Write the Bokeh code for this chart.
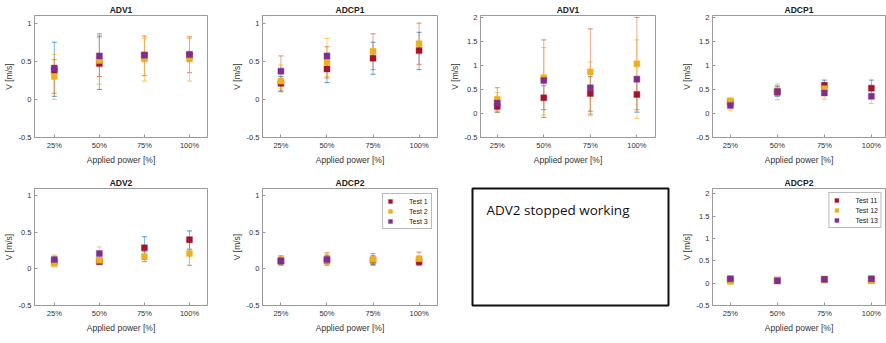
import math
from bokeh.plotting import figure
from bokeh.layouts import row, column
from bokeh.models import (Range1d, FixedTicker, Whisker, TeeHead, ColumnDataSource,
                          Legend, LegendItem, Label, NumeralTickFormatter)
from bokeh.embed import file_html
from bokeh.resources import INLINE

NAN = float("nan")

# ---------------- data ----------------
power_labels = ["25%", "50%", "75%", "100%"]
power_pos = [1, 2, 3, 4]
tests_a = ["Test 1", "Test 2", "Test 3"]
tests_b = ["Test 11", "Test 12", "Test 13"]

# ADV1 (left, tests 1-3)
adv1_a_mean = [[0.38, 0.47, 0.58, 0.58], [0.30, 0.51, 0.53, 0.53], [0.41, 0.57, 0.58, 0.59]]
adv1_a_lo = [[0.04, 0.13, 0.55, 0.55], [0.08, 0.30, 0.31, 0.35], [0.00, 0.20, 0.24, 0.24]]
adv1_a_hi = [[0.75, 0.83, 0.61, 0.62], [0.52, 0.86, 0.83, 0.82], [0.59, 0.81, 0.80, 0.80]]

# ADCP1 (left)
adcp1_a_mean = [[0.21, 0.40, 0.54, 0.64], [0.24, 0.49, 0.63, 0.73], [0.37, 0.57, NAN, NAN]]
adcp1_a_lo = [[0.11, 0.22, 0.33, 0.39], [0.10, 0.28, 0.39, 0.46], [0.14, 0.30, NAN, NAN]]
adcp1_a_hi = [[0.30, 0.58, 0.75, 0.88], [0.57, 0.69, 0.86, 1.00], [0.45, 0.80, NAN, NAN]]

# ADV1 (right, tests 11-13)
adv1_b_mean = [[0.15, 0.33, 0.42, 0.40], [0.30, 0.75, 0.87, 1.04], [0.22, 0.69, 0.54, 0.72]]
adv1_b_lo = [[0.02, 0.08, 0.05, 0.03], [0.05, -0.08, -0.03, 0.08], [0.03, -0.03, 0.00, -0.10]]
adv1_b_hi = [[0.28, 0.58, 0.77, 0.77], [0.54, 1.54, 1.77, 2.01], [0.44, 1.38, 1.08, 1.54]]

# ADCP1 (right)
adcp1_b_mean = [[0.24, 0.45, 0.59, 0.53], [0.27, 0.47, 0.52, NAN], [0.17, 0.46, 0.43, 0.36]]
adcp1_b_lo = [[0.16, 0.36, 0.45, 0.36], [0.22, 0.38, 0.40, NAN], [0.07, 0.29, 0.30, 0.21]]
adcp1_b_hi = [[0.30, 0.56, 0.70, 0.70], [0.31, 0.58, 0.64, NAN], [0.27, 0.62, 0.56, 0.50]]

# ADV2 (left)
adv2_a_mean = [[0.10, 0.10, 0.29, 0.40], [0.07, 0.12, 0.17, 0.21], [0.13, 0.21, NAN, NAN]]
adv2_a_lo = [[0.07, 0.08, 0.13, 0.27], [0.05, 0.07, 0.10, 0.05], [0.07, 0.12, NAN, NAN]]
adv2_a_hi = [[0.14, 0.13, 0.44, 0.52], [0.10, 0.21, 0.24, 0.37], [0.19, 0.30, NAN, NAN]]

# ADCP2 (left)
adcp2_a_mean = [[0.11, 0.12, 0.12, 0.10], [0.11, 0.12, 0.13, 0.14], [0.11, 0.13, NAN, NAN]]
adcp2_a_lo = [[0.06, 0.07, 0.06, 0.05], [0.05, 0.05, 0.05, 0.06], [0.05, 0.06, NAN, NAN]]
adcp2_a_hi = [[0.16, 0.18, 0.18, 0.17], [0.18, 0.22, 0.21, 0.23], [0.17, 0.20, NAN, NAN]]

# ADCP2 (right)
adcp2_b_mean = [[0.08, 0.07, 0.08, 0.07], [0.04, 0.07, 0.08, 0.05], [0.10, 0.05, 0.09, 0.10]]
adcp2_b_lo = [[0.04, 0.04, 0.05, 0.04], [0.01, 0.04, 0.05, 0.02], [0.06, 0.02, 0.06, 0.07]]
adcp2_b_hi = [[0.12, 0.10, 0.11, 0.10], [0.07, 0.10, 0.11, 0.08], [0.14, 0.08, 0.12, 0.13]]

note_text = "ADV2 stopped working"

# ---------------- style ----------------
marker_colors = ["#A2142F", "#EDB120", "#7E2F8E"]
bar_colors = ["#0072BD", "#D95319", "#EDB120"]
FONT = "Liberation Sans"
AX = "#9a9a9a"
TXT = "#333333"


def make_panel(title, means, los, his, width, height, borders, xr, yr, yticks,
               legend_labels=None, legend_margin=5):
    left, right, top, bottom = borders
    p = figure(width=width, height=height, output_backend="svg", toolbar_location=None,
               x_range=Range1d(*xr), y_range=Range1d(*yr), title=title,
               min_border_left=left, min_border_right=right,
               min_border_top=top, min_border_bottom=bottom)
    p.title.text_font = FONT
    p.title.text_font_size = "8.5px"
    p.title.text_font_style = "bold"
    p.title.text_color = "#222222"
    p.title.align = "center"
    p.title.standoff = 2
    p.xgrid.visible = False
    p.ygrid.visible = False
    p.outline_line_color = AX
    p.outline_line_width = 1
    p.background_fill_color = "white"
    p.border_fill_color = "white"
    for ax in (p.xaxis[0], p.yaxis[0]):
        ax.axis_line_color = AX
        ax.major_tick_line_color = AX
        ax.major_tick_in = 3
        ax.major_tick_out = 0
        ax.minor_tick_line_color = None
        ax.major_label_text_font = FONT
        ax.major_label_text_font_size = "7.5px"
        ax.major_label_text_color = TXT
        ax.axis_label_text_font = FONT
        ax.axis_label_text_font_size = "8.5px"
        ax.axis_label_text_font_style = "normal"
        ax.axis_label_text_color = TXT
        ax.major_label_standoff = 3
        ax.axis_label_standoff = 2
    p.xaxis.ticker = FixedTicker(ticks=power_pos)
    p.xaxis.major_label_overrides = {k: v for k, v in zip(power_pos, power_labels)}
    p.xaxis.axis_label = "Applied power [%]"
    p.yaxis.ticker = FixedTicker(ticks=yticks)
    p.yaxis.formatter = NumeralTickFormatter(format="0.[0]")
    p.yaxis.axis_label = "V [m/s]"

    renderers = []
    sources = []
    for i in range(3):
        xs, ms, ls, hs = [], [], [], []
        for x, m, lo, hi in zip(power_pos, means[i], los[i], his[i]):
            if math.isnan(m):
                continue
            xs.append(x); ms.append(m); ls.append(lo); hs.append(hi)
        src = ColumnDataSource(dict(x=xs, m=ms, lo=ls, hi=hs))
        sources.append(src)
        c = bar_colors[i]
        w = Whisker(source=src, base="x", lower="lo", upper="hi",
                    line_color=c, line_alpha=0.5, line_width=1,
                    lower_head=TeeHead(size=5, line_color=c, line_alpha=0.7, line_width=1),
                    upper_head=TeeHead(size=5, line_color=c, line_alpha=0.7, line_width=1))
        p.add_layout(w)
    for i in range(3):
        mc = marker_colors[i]
        r = p.scatter("x", "m", source=sources[i], marker="square", size=6,
                      fill_color=mc, line_color=mc, line_alpha=0.35, line_width=1.2)
        renderers.append(r)

    if legend_labels:
        items = [LegendItem(label=lab, renderers=[r]) for lab, r in zip(legend_labels, renderers)]
        lg = Legend(items=items, location="top_right")
        lg.label_text_font = FONT
        lg.label_text_font_size = "7px"
        lg.label_text_color = "#222222"
        lg.glyph_width = 10
        lg.glyph_height = 10
        lg.label_height = 9
        lg.label_standoff = 14
        lg.padding = 2
        lg.spacing = 0
        lg.margin = legend_margin
        lg.border_line_color = "#777777"
        lg.border_line_width = 1
        lg.background_fill_alpha = 1
        p.add_layout(lg)
    return p


yt_small = [-0.5, 0, 0.5, 1]
yt_big = [-0.5, 0, 0.5, 1, 1.5, 2]

p1 = make_panel("ADV1", adv1_a_mean, adv1_a_lo, adv1_a_hi, 220, 170, (32, 13, 15, 33),
                (0.56, 4.4), (-0.5, 1.1), yt_small)
p2 = make_panel("ADCP1", adcp1_a_mean, adcp1_a_lo, adcp1_a_hi, 220, 170, (42, 3, 15, 33),
                (0.6, 4.4), (-0.5, 1.1), yt_small)
p3 = make_panel("ADV1", adv1_b_mean, adv1_b_lo, adv1_b_hi, 220, 170, (40, 5, 15, 33),
                (0.64, 4.4), (-0.5, 2.05), yt_big)
p4 = make_panel("ADCP1", adcp1_b_mean, adcp1_b_lo, adcp1_b_hi, 226, 170, (52, 1, 15, 33),
                (0.62, 4.3), (-0.5, 2.05), yt_big)

p5 = make_panel("ADV2", adv2_a_mean, adv2_a_lo, adv2_a_hi, 220, 173, (32, 13, 16, 34),
                (0.56, 4.4), (-0.5, 1.1), yt_small)
p6 = make_panel("ADCP2", adcp2_a_mean, adcp2_a_lo, adcp2_a_hi, 220, 173, (42, 3, 16, 34),
                (0.6, 4.4), (-0.5, 1.1), yt_small, legend_labels=tests_a, legend_margin=5)

p7 = figure(width=230, height=173, output_backend="svg", toolbar_location=None,
            x_range=Range1d(0, 1), y_range=Range1d(0, 1),
            x_axis_type=None, y_axis_type=None,
            min_border_left=32, min_border_right=2, min_border_top=18, min_border_bottom=33)
p7.outline_line_color = "#111111"
p7.outline_line_width = 2
p7.border_fill_color = "white"
p7.add_layout(Label(x=0.071, y=0.814, text=note_text, text_font="Open Sans",
                    text_font_size="13.5px", text_baseline="alphabetic", text_color="#111111"))

p8 = make_panel("ADCP2", adcp2_b_mean, adcp2_b_lo, adcp2_b_hi, 216, 173, (42, 1, 16, 38),
                (0.62, 4.3), (-0.5, 2.12), yt_big, legend_labels=tests_b, legend_margin=4)

layout = column(row(p1, p2, p3, p4), row(p5, p6, p7, p8))

open("out.html", "w").write(file_html(layout, INLINE))
